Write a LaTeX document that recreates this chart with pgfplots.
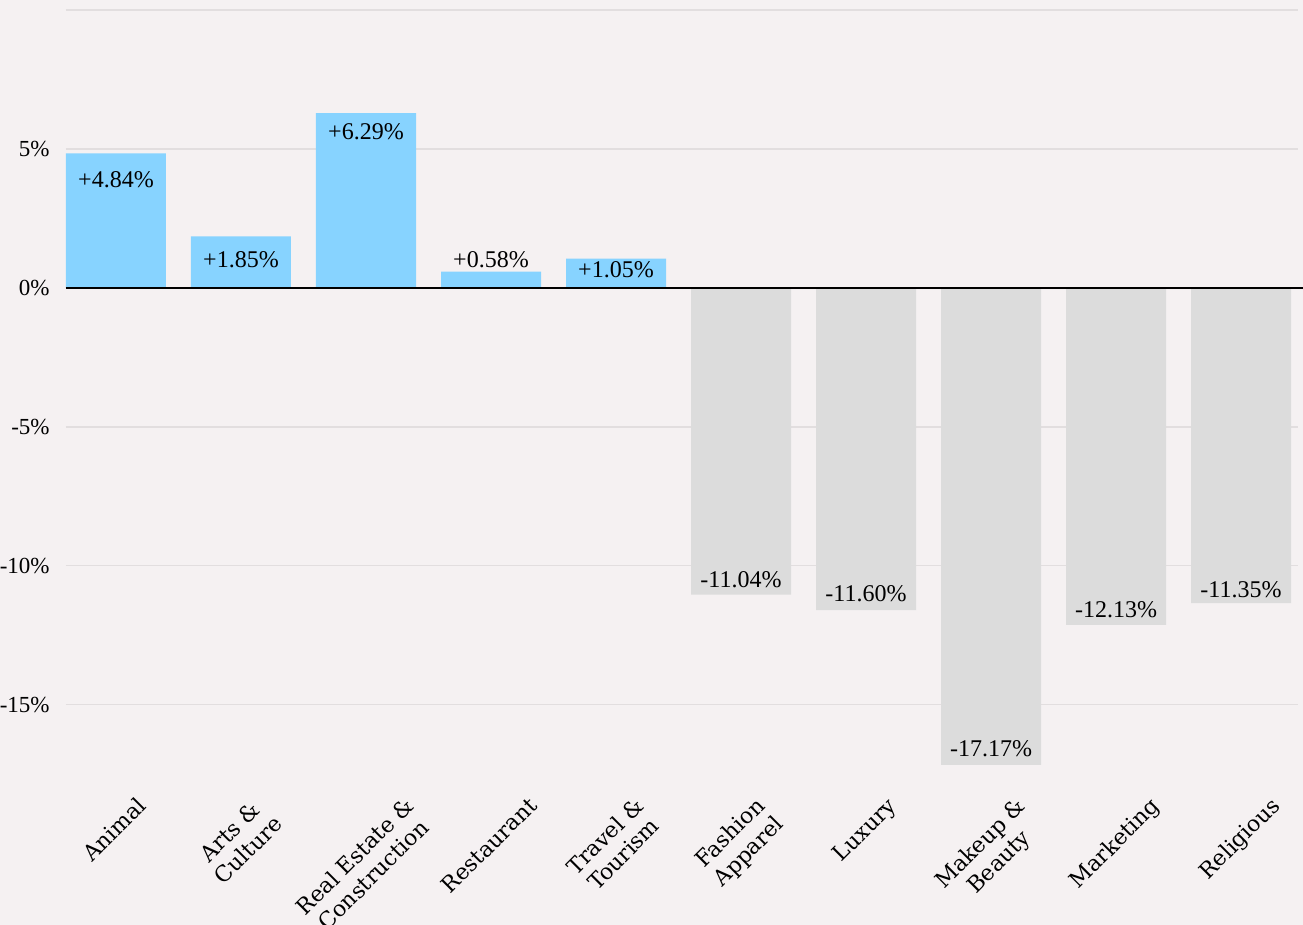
\documentclass[border=0pt]{standalone}
\usepackage{pgfplots}
\pgfplotsset{compat=1.18}
\usepackage{fontspec}
\usepackage{graphicx}
\setmainfont{Liberation Serif}
\newfontfamily\catfont{DejaVu Serif}
\definecolor{bg}{RGB}{245,241,242}
\definecolor{posbar}{RGB}{135,211,255}
\definecolor{negbar}{RGB}{220,220,220}
\definecolor{gridc}{RGB}{226,222,223}
\newcommand{\rl}[1]{\rotatebox{45}{\catfont\fontsize{11}{13}\selectfont\begin{tabular}{@{}c@{}}#1\end{tabular}}}
\begin{document}
\begin{tikzpicture}
\useasboundingbox[fill=bg] (-33pt,-68.5pt) rectangle (618.5pt,394pt);
\begin{axis}[
  at={(0,0)}, anchor=south west,
  scale only axis, width=616pt, height=389pt,
  xmin=-0.4, xmax=9.456, ymin=-18, ymax=10,
  clip=false,
  axis line style={draw=none},
  tick style={draw=none},
  ytick={-15,-10,-5,0,5,10},
  yticklabels={-15\%,-10\%,-5\%,0\%,5\%,{}},
  yticklabel style={font=\fontsize{11.5}{13}\selectfont, anchor=east, inner sep=0pt, xshift=-8pt},
  ymajorgrids,
  grid style={gridc, line width=0.75pt},
  xtick={0,1,2,3,4,5,6,7,8,9},
  xticklabels={
    {\rl{Animal}},
    {\rl{Arts \&\\Culture}},
    {\rl{Real Estate \&\\Construction}},
    {\rl{Restaurant}},
    {\rl{Travel \&\\Tourism}},
    {\rl{Fashion\\Apparel}},
    {\rl{Luxury}},
    {\rl{Makeup \&\\Beauty}},
    {\rl{Marketing}},
    {\rl{Religious}}},
  xticklabel style={anchor=north, inner sep=0pt, yshift=-3pt},
]
\addplot[ybar, bar width=0.8, bar shift=0pt, fill=posbar, draw=none]
  coordinates {(0,4.84) (1,1.85) (2,6.29) (3,0.58) (4,1.05)};
\addplot[ybar, bar width=0.8, bar shift=0pt, fill=negbar, draw=none]
  coordinates {(5,-11.04) (6,-11.60) (7,-17.17) (8,-12.13) (9,-11.35)};
\draw[black, line width=1pt] (axis cs:-0.4,0) -- (axis cs:9.5,0);
\addplot[draw=none, mark=none, nodes near coords, point meta=explicit symbolic,
  nodes near coords style={anchor=center, inner sep=0pt, font=\fontsize{12}{14}\selectfont, text=black}]
  coordinates {
  (0,3.88) [+4.84\%]
  (1,1.0) [+1.85\%]
  (2,5.61) [+6.29\%]
  (3,1.0) [+0.58\%]
  (4,0.65) [+1.05\%]
  (5,-10.5) [-11.04\%]
  (6,-11.0) [-11.60\%]
  (7,-16.6) [-17.17\%]
  (8,-11.58) [-12.13\%]
  (9,-10.86) [-11.35\%]
  };
\end{axis}
\end{tikzpicture}
\end{document}
